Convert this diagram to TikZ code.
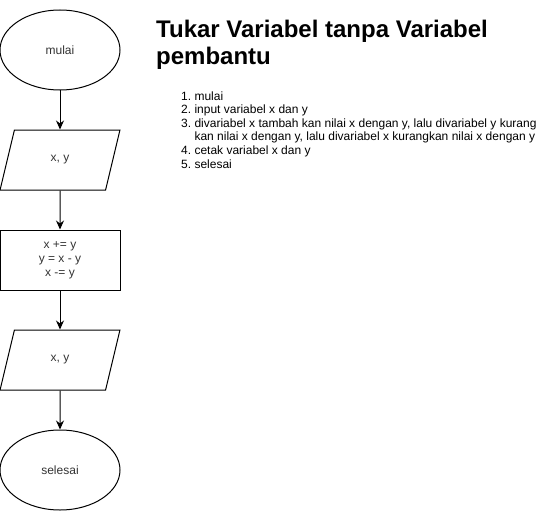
\documentclass[tikz,border=0pt]{standalone}
\usepackage{fontspec}
\setmainfont{Liberation Sans}
\usetikzlibrary{shapes.geometric,arrows.meta}
\definecolor{teksabu}{HTML}{333333}

\tikzset{
  terminal/.style={ellipse,draw,line width=1pt,minimum width=120pt,minimum height=80pt,inner sep=0pt,font=\fontsize{12}{14}\selectfont,text=teksabu},
  io/.style={trapezium,trapezium left angle=71.57,trapezium right angle=108.43,trapezium stretches=true,draw,line width=1pt,minimum width=120pt,minimum height=60pt,inner sep=0pt,font=\fontsize{12}{14}\selectfont,text=teksabu},
  proses/.style={rectangle,draw,line width=1pt,minimum width=120pt,minimum height=60pt,inner sep=0pt,align=center,font=\fontsize{12}{14}\selectfont,text=teksabu},
  panah/.style={->,line width=1pt}
}

\begin{document}
\begin{tikzpicture}[x=1pt,y=-1pt,>={Stealth[length=9pt,width=8pt]}]
\useasboundingbox (0,0) rectangle (541,511);

% bagan alir
\node[terminal] (mulai) at (60,50) {mulai};
\node[io] (input) at (60,160) {x, y};
\node[proses] (tukar) at (60,260) {x += y\\y = x - y\\x -= y};
\node[io] (output) at (60,360) {x, y};
\node[terminal] (selesai) at (60,470) {selesai};

\draw[panah] (mulai) -- (input);
\draw[panah] (input) -- (tukar);
\draw[panah] (tukar) -- (output);
\draw[panah] (output) -- (selesai);

% judul dan langkah
\node[anchor=base west,inner sep=0pt,font=\fontsize{24}{28}\selectfont\bfseries] (judul) at (156,38) {Tukar Variabel tanpa Variabel};
\node[anchor=base west,inner sep=0pt,font=\fontsize{24}{28}\selectfont\bfseries] (judulb) at (156,65) {pembantu};
\node[anchor=base west,inner sep=0pt,font=\fontsize{12}{13.6}\selectfont] (langkah) at (181,100) {%
\begin{tabular}[t]{@{}r@{\ }l@{}}
1. & mulai\\
2. & input variabel x dan y\\
3. & divariabel x tambah kan nilai x dengan y, lalu divariabel y kurang\\
   & kan nilai x dengan y, lalu divariabel x kurangkan nilai x dengan y\\
4. & cetak variabel x dan y\\
5. & selesai
\end{tabular}};
\end{tikzpicture}
\end{document}
